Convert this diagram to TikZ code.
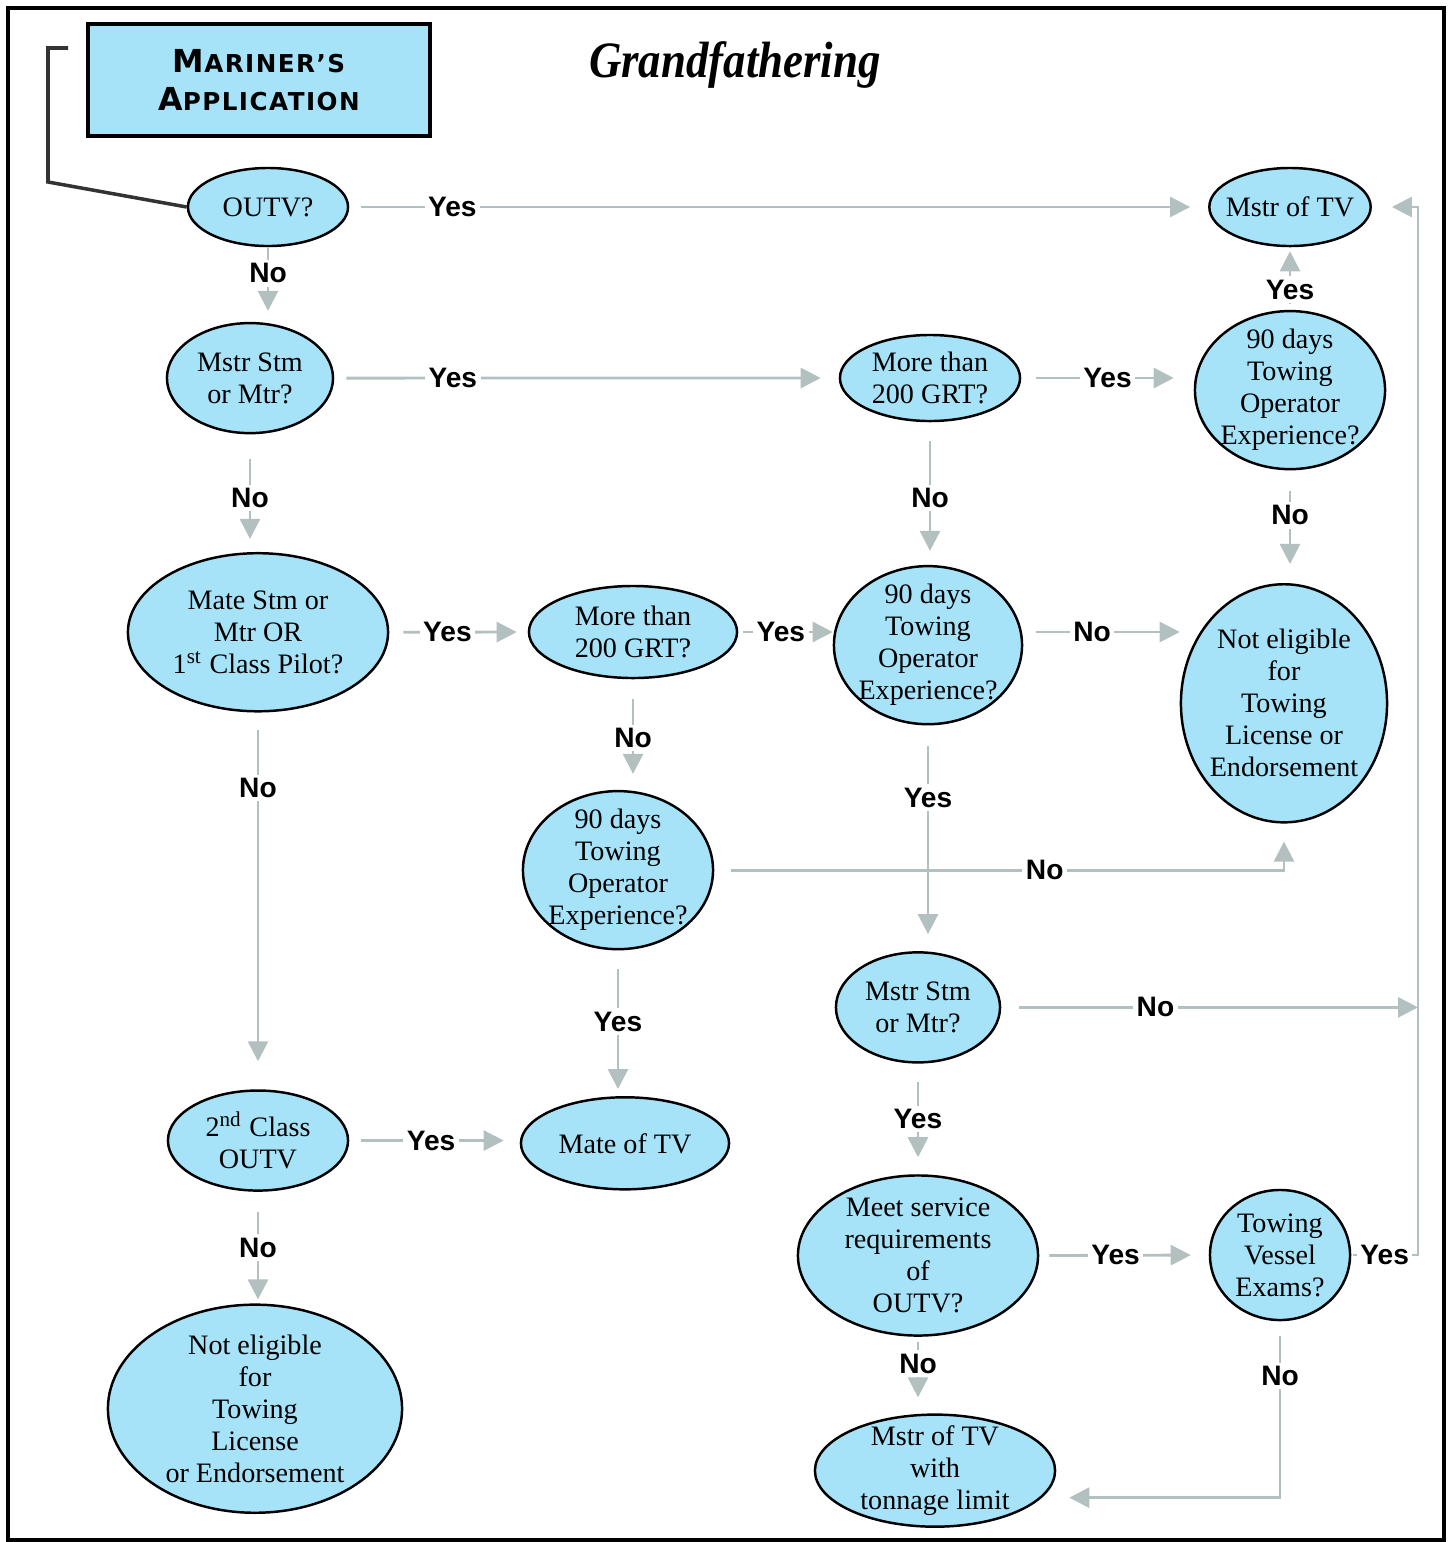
\documentclass[tikz,border=0pt]{standalone}
\usepackage{fontspec}
\setmainfont{Liberation Serif}
\newfontfamily\answerfont{Liberation Sans}
\newfontfamily\appfont[LetterSpace=6]{DejaVu Sans}
\newfontfamily\titlefont[FakeStretch=0.88]{Liberation Serif}
\usetikzlibrary{shapes,arrows.meta}
\definecolor{cellblue}{RGB}{166,226,248}
\definecolor{linegray}{RGB}{178,192,192}
\newcommand\fakesc[2]{{\fontsize{9}{10.8}\selectfont #1}#2}
\tikzstyle{decision} = [ellipse, draw, line width=0.7pt, fill=cellblue, align=center, inner sep=-2pt,
    font=\fontsize{8}{9.1}\selectfont]
\tikzstyle{block} = [rectangle, draw, line width=1pt, fill=cellblue, align=center, minimum width=3.42cm,
    minimum height=1.12cm, font=\appfont\bfseries\fontsize{7}{10.8}\selectfont]
\tikzstyle{line} = [draw, linegray, line width=0.8pt, -{Triangle[length=0.2cm,width=0.2cm]}]
\tikzstyle{answer} = [font=\answerfont\bfseries\fontsize{8}{9}\selectfont, text=black, fill=white, inner sep=1pt]
\tikzstyle{bracket} = [draw, black!80, line width=1pt]

\begin{document}
\begin{tikzpicture}[x=0.01cm,y=-0.01cm,node distance=1cm]
      \useasboundingbox (0,0) rectangle (1452,1542);
      \draw [line width=1.2pt] (8,8) rectangle (1444,1540);

      \node [block] (app) at (259,80) {\fakesc{M}{ARINER’S}\\\fakesc{A}{PPLICATION}};
      \node [font=\titlefont\bfseries\itshape\fontsize{14.5}{17}\selectfont] (title) at (735,65) {Grandfathering};

      % left column
      \node [decision, minimum width=1.6cm, minimum height=0.78cm] (outv1) at (268,207) {OUTV?};
      \node [decision, below of=outv1, xshift=-0.18cm, yshift=-0.71cm, minimum width=1.66cm, minimum height=1.1cm] (mstr1) {Mstr Stm\\or Mtr?};
      \node [decision, below of=mstr1, xshift=0.08cm, yshift=-1.54cm, minimum width=2.6cm, minimum height=1.58cm] (mate1) {Mate Stm or\\Mtr OR\\1\textsuperscript{st} Class Pilot?};
      \node [decision, below of=mate1, yshift=-4.08cm, minimum width=1.8cm, minimum height=1.0cm] (outv2) {2\textsuperscript{nd} Class\\OUTV};
      \node [decision, below of=outv2, xshift=-0.03cm, yshift=-1.68cm, minimum width=2.94cm, minimum height=2.08cm] (noelig2) {Not eligible\\for\\Towing\\License\\or Endorsement};

      % middle column
      \node [decision, minimum width=2.08cm, minimum height=0.92cm] (grt2) at (633,632) {More than\\200 GRT?};
      \node [decision, below of=grt2, xshift=-0.15cm, yshift=-1.38cm, minimum width=1.9cm, minimum height=1.58cm] (tow3) {90 days\\Towing\\Operator\\Experience?};
      \node [decision, below of=tow3, xshift=0.07cm, yshift=-1.73cm, minimum width=2.08cm, minimum height=0.92cm] (mateTV) {Mate of TV};

      \node [decision, minimum width=1.8cm, minimum height=0.86cm] (grt1) at (930,378) {More than\\200 GRT?};
      \node [decision, below of=grt1, xshift=-0.02cm, yshift=-1.67cm, minimum width=1.88cm, minimum height=1.58cm] (tow2) {90 days\\Towing\\Operator\\Experience?};
      \node [decision, below of=tow2, xshift=-0.10cm, yshift=-2.62cm, minimum width=1.64cm, minimum height=1.1cm] (mstr2) {Mstr Stm\\or Mtr?};
      \node [decision, below of=mstr2, yshift=-1.48cm, minimum width=2.4cm, minimum height=1.6cm] (meet) {Meet service\\requirements\\of\\OUTV?};
      \node [decision, below of=meet, xshift=0.17cm, yshift=-1.15cm, minimum width=2.4cm, minimum height=1.12cm] (limit) {Mstr of TV\\with\\tonnage limit};

      % right column
      \node [decision, minimum width=1.6cm, minimum height=0.78cm] (mstrTV) at (1290,207) {Mstr of TV};
      \node [decision, below of=mstrTV, yshift=-0.83cm, minimum width=1.9cm, minimum height=1.58cm] (tow1) {90 days\\Towing\\Operator\\Experience?};
      \node [decision, below of=tow1, xshift=-0.06cm, yshift=-2.13cm, minimum width=2.06cm, minimum height=2.38cm] (noelig1) {Not eligible\\for\\Towing\\License or\\Endorsement};
      \node [decision, minimum width=1.4cm, minimum height=1.3cm] (exams) at (1280,1255) {Towing\\Vessel\\Exams?};

      \coordinate (brk) at (68,48);
      \coordinate (trunk) at (1418,207);

      \path [bracket] (brk) -- ++(-20,0) -- ++(0,134) -- (outv1.west);

      \path [line, shorten <=0.12cm, shorten >=0.18cm] (outv1.east) -- node[answer, pos=0.12] {Yes} (mstrTV.west);
      \path [line, shorten >=0.11cm] (outv1.south) -- node[answer, pos=0.35] {No} (outv1.south |- mstr1.north);
      \path [line, shorten <=0.12cm, shorten >=0.18cm] (mstr1.east) -- node[answer, pos=0.235] {Yes} (grt1.west);
      \path [line, shorten <=0.15cm, shorten >=0.2cm] (grt1.east) -- node[answer, pos=0.5] {Yes} (grt1.east -| tow1.west);
      \path [line, shorten <=0.06cm, shorten >=0.04cm] (tow1.north) -- node[answer, pos=0.32] {Yes} (mstrTV.south);
      \path [line, shorten <=0.21cm, shorten >=0.19cm] (tow1.south) -- node[answer, pos=0.4] {No} (tow1.south |- noelig1.north);
      \path [line, shorten <=0.19cm, shorten >=0.14cm] (grt1.south) -- node[answer, pos=0.53] {No} (grt1.south |- tow2.north);
      \path [line, shorten <=0.25cm, shorten >=0.13cm] (mstr1.south) -- node[answer, pos=0.54] {No} (mstr1.south |- mate1.north);
      \path [line, shorten <=0.14cm, shorten >=0.11cm] (mate1.east) -- node[answer, pos=0.42] {Yes} (grt2.west);
      \path [line, shorten <=0.05cm] (grt2.east) -- node[answer, pos=0.45] {Yes} (grt2.east -| tow2.west);
      \path [line, shorten <=0.13cm] (tow2.east |- grt2.east) -- node[answer, pos=0.44] {No} (grt2.east -| noelig1.west);
      \path [line, shorten <=0.2cm, shorten >=0.16cm] (grt2.south) -- node[answer, pos=0.53] {No} (grt2.south |- tow3.north);
      \path [line, shorten <=0.17cm, shorten >=0.28cm] (mate1.south) -- node[answer, pos=0.2] {No} (mate1.south |- outv2.north);
      \path [line, shorten <=0.17cm, shorten >=0.18cm] (tow3.east) -| node[answer, pos=0.29] {No} (noelig1.south);
      \path [line, shorten <=0.21cm, shorten >=0.17cm] (tow2.south) -- node[answer, pos=0.32] {Yes} (tow2.south |- mstr2.north);
      \path [line, shorten <=0.19cm, shorten >=0.07cm] (tow3.south) -- node[answer, pos=0.49] {Yes} (tow3.south |- mateTV.north);
      \path [line, shorten <=0.18cm] (mstr2.east) -- node[answer, pos=0.37] {No} (mstr2.east -| trunk);
      \path [line, shorten <=0.18cm, shorten >=0.17cm] (mstr2.south) -- node[answer, pos=0.5] {Yes} (meet.north);
      \path [line, shorten <=0.12cm, shorten >=0.16cm] (outv2.east) -- node[answer, pos=0.48] {Yes} (outv2.east -| mateTV.west);
      \path [line, shorten <=0.2cm, shorten >=0.04cm] (outv2.south) -- node[answer, pos=0.5] {No} (outv2.south |- noelig2.north);
      \path [line, shorten <=0.1cm, shorten >=0.18cm] (meet.east) -- node[answer, pos=0.45] {Yes} (exams.west);
      \path [line, shorten <=0.05cm, shorten >=0.16cm] (meet.south) -- node[answer, pos=0.35] {No} (meet.south |- limit.north);
      \path [line, shorten <=0.15cm, shorten >=0.13cm] (exams.south) |- node[answer, pos=0.155] {No} ([yshift=-0.27cm]limit.east);
      \path [line, shorten <=0.02cm, shorten >=0.2cm] (exams.east) -| node[answer, pos=0.25] {Yes} (trunk) -- (mstrTV.east);

    \end{tikzpicture}
\end{document}
